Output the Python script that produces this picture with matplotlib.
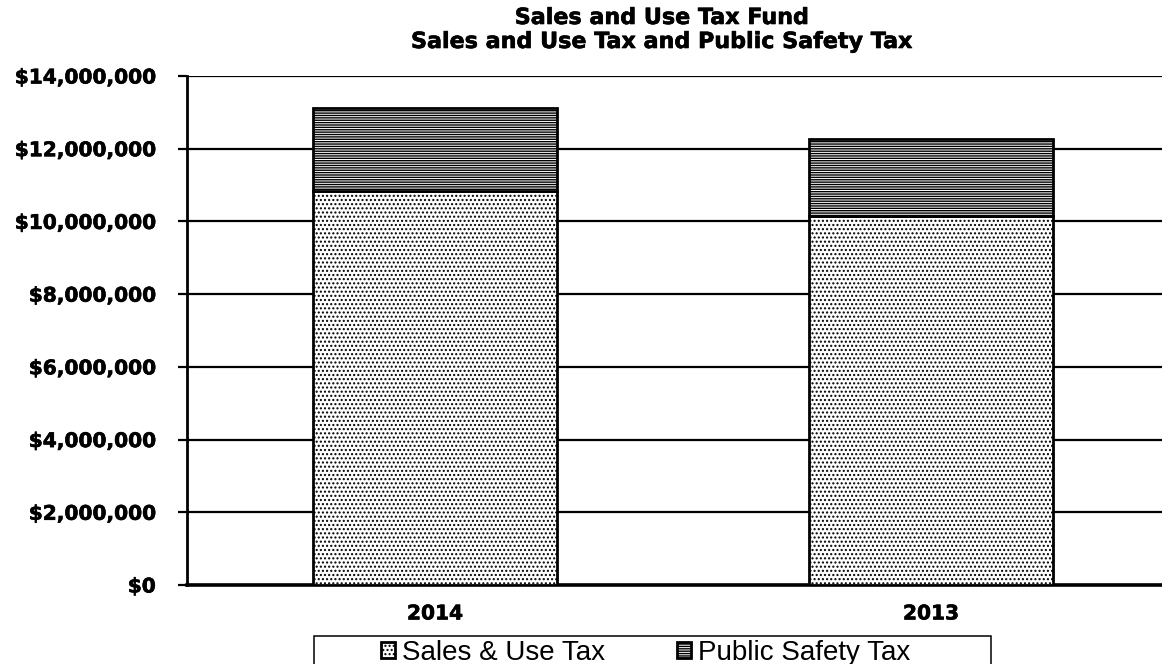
import matplotlib.pyplot as plt
import matplotlib.patheffects as pe
from matplotlib.patches import Rectangle
from matplotlib.ticker import FuncFormatter
import numpy as np

years = ['2014', '2013']
sales_use_tax = [10850000, 10140000]
public_safety_tax = [2270000, 2130000]

plt.rcParams['hatch.linewidth'] = 1.0

fig = plt.figure(figsize=(11.62, 6.64), dpi=100)
# axes runs a little past the right edge of the figure
ax = fig.add_axes([187 / 1162, 79 / 664, 992 / 1162, 509 / 664])

x = np.arange(len(years))
w = 0.49
ax.bar(x, sales_use_tax, w, color='white', edgecolor='black', linewidth=2,
       hatch='....', label='Sales & Use Tax', zorder=3)
ax.bar(x, public_safety_tax, w, bottom=sales_use_tax, color='white',
       edgecolor='black', linewidth=2, hatch='-------',
       label='Public Safety Tax', zorder=3)

ax.set_xlim(-0.5, 1.5)
ax.set_ylim(0, 14000000)
ax.set_yticks(np.arange(0, 14000001, 2000000))
ax.yaxis.set_major_formatter(FuncFormatter(lambda v, p: '${:,.0f}'.format(v)))
ax.grid(axis='y', color='black', linewidth=1.6, zorder=1)
ax.set_axisbelow(True)

ax.set_xticks(x)
ax.set_xticklabels(years)
ax.tick_params(axis='x', length=0, pad=14)
ax.tick_params(axis='y', length=6.5, width=1.6, pad=16)
heavy = [pe.withStroke(linewidth=0.45, foreground='black')]
for lab in ax.get_xticklabels() + ax.get_yticklabels():
    lab.set_fontsize(14.5)
    lab.set_fontweight('bold')
    lab.set_path_effects(heavy)

for side in ['top', 'right']:
    ax.spines[side].set_visible(False)
ax.spines['left'].set_linewidth(2)
ax.spines['bottom'].set_linewidth(2.6)

fig.text(662 / 1162, 634 / 664,
         'Sales and Use Tax Fund\nSales and Use Tax and Public Safety Tax',
         ha='center', va='center', fontsize=16, fontweight='bold',
         linespacing=1.25, path_effects=heavy)

# legend box at the bottom, partly below the figure edge
fig.patches.append(Rectangle((314 / 1162, -0.05), 677 / 1162, 0.05 + 28 / 664,
                             transform=fig.transFigure, fill=False,
                             edgecolor='black', linewidth=1.1, clip_on=False))
leg = fig.legend(loc='center', bbox_to_anchor=(645.5 / 1162, 0.017), ncol=2,
                 frameon=False, prop={'family': 'Liberation Sans', 'size': 20},
                 handlelength=0.5, handleheight=0.5, handletextpad=0.25,
                 columnspacing=2.6, borderpad=0)

plt.savefig('out.png', dpi=100)
